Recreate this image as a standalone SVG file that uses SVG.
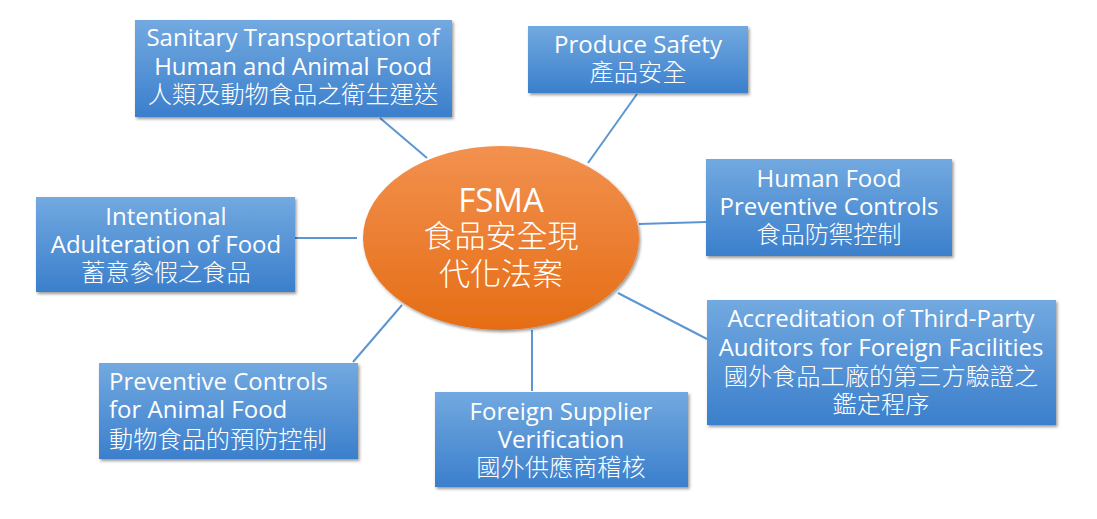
<svg xmlns="http://www.w3.org/2000/svg" width="1097" height="519" viewBox="0 0 1097 519">
<defs>
<linearGradient id="gBox" x1="0" y1="0" x2="0" y2="1">
<stop offset="0" stop-color="#72a9e0"/>
<stop offset="1" stop-color="#3b7fcc"/>
</linearGradient>
<linearGradient id="gEll" x1="0" y1="0" x2="0" y2="1">
<stop offset="0" stop-color="#f2914f"/>
<stop offset="1" stop-color="#e56d15"/>
</linearGradient>
<filter id="sh" x="-10%" y="-10%" width="125%" height="130%">
<feDropShadow dx="1.5" dy="2" stdDeviation="1.5" flood-color="#000" flood-opacity="0.4"/>
</filter>
</defs>
<style>
.box{fill:url(#gBox);filter:url(#sh)}
.ell{fill:url(#gEll);filter:url(#sh)}
.con{stroke:#5b96d2;stroke-width:2;fill:none}
text{fill:#fff}
.en{font-family:"Open Sans","Noto Sans CJK TC",sans-serif;font-size:24px}
.zh{font-family:"Noto Sans CJK TC",sans-serif;font-size:24.2px;font-weight:300}
.c{text-anchor:middle}
.ben{font-family:"Open Sans","Noto Sans CJK TC",sans-serif;font-size:33px;text-anchor:middle}
.bzh{font-family:"Noto Sans CJK TC",sans-serif;font-size:31px;font-weight:300;text-anchor:middle}
</style>
<rect width="1097" height="519" fill="#fff"/>
<g id="connectors">
<line class="con" x1="380" y1="118" x2="427" y2="158"/>
<line class="con" x1="637" y1="94" x2="588" y2="163"/>
<line class="con" x1="295" y1="238" x2="357" y2="238"/>
<line class="con" x1="639" y1="224" x2="706" y2="222"/>
<line class="con" x1="618" y1="293" x2="707" y2="339"/>
<line class="con" x1="402" y1="305" x2="353" y2="362"/>
<line class="con" x1="532" y1="330" x2="532" y2="391"/>
</g>
<g id="center">
<ellipse class="ell" cx="501" cy="238" rx="138" ry="92"/>
<text class="ben" x="501" y="212">FSMA</text>
<text class="bzh" x="501" y="247">食品安全現</text>
<text class="bzh" x="501" y="285">代化法案</text>
</g>
<g id="sanitary">
<rect class="box" x="135" y="20" width="317" height="97"/>
<text class="en c" x="293" y="46">Sanitary Transportation of</text>
<text class="en c" x="293" y="75">Human and Animal Food</text>
<text class="zh c" x="293" y="103">人類及動物食品之衛生運送</text>
</g>
<g id="produce">
<rect class="box" x="528" y="26" width="220" height="67"/>
<text class="en c" x="638" y="53">Produce Safety</text>
<text class="zh c" x="638" y="81">產品安全</text>
</g>
<g id="humanfood">
<rect class="box" x="706" y="159" width="246" height="97"/>
<text class="en c" x="829" y="187">Human Food</text>
<text class="en c" x="829" y="215">Preventive Controls</text>
<text class="zh c" x="829" y="243">食品防禦控制</text>
</g>
<g id="accreditation">
<rect class="box" x="707" y="300" width="349" height="125"/>
<text class="en c" x="881" y="327">Accreditation of Third-Party</text>
<text class="en c" x="881" y="356">Auditors for Foreign Facilities</text>
<text class="zh c" x="881" y="385">國外食品工廠的第三方驗證之</text>
<text class="zh c" x="881" y="413">鑑定程序</text>
</g>
<g id="foreign">
<rect class="box" x="435" y="392" width="253" height="95"/>
<text class="en c" x="561" y="420">Foreign Supplier</text>
<text class="en c" x="561" y="448">Verification</text>
<text class="zh c" x="561" y="476">國外供應商稽核</text>
</g>
<g id="animal">
<rect class="box" x="99" y="363" width="259" height="96"/>
<text class="en" x="109" y="390">Preventive Controls</text>
<text class="en" x="109" y="418">for Animal Food</text>
<text class="zh" x="109" y="448">動物食品的預防控制</text>
</g>
<g id="intentional">
<rect class="box" x="36" y="197" width="259" height="95"/>
<text class="en c" x="166" y="225">Intentional</text>
<text class="en c" x="166" y="253">Adulteration of Food</text>
<text class="zh c" x="166" y="281">蓄意參假之食品</text>
</g>
</svg>
